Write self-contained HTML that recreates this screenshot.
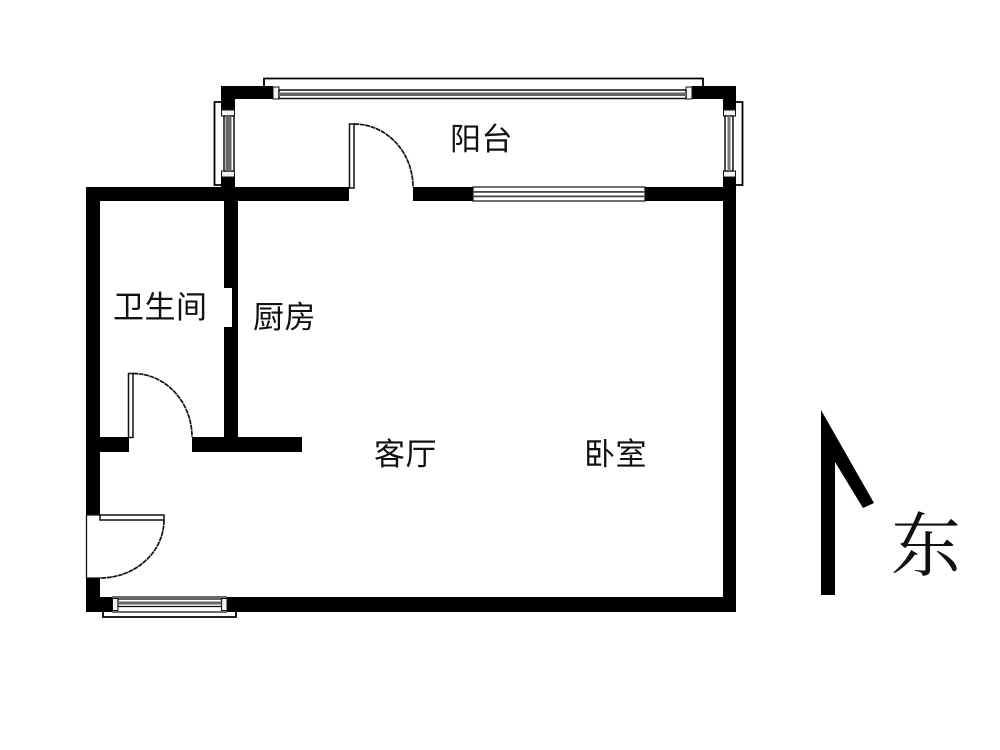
<!DOCTYPE html>
<html lang="zh">
<head>
<meta charset="utf-8">
<style>
html,body{margin:0;padding:0;background:#fff;width:1000px;height:750px;overflow:hidden}
svg{display:block;filter:blur(.35px)}
text{font-family:"Liberation Sans","Noto Sans CJK SC",sans-serif;fill:#111;font-size:31px;font-weight:400;letter-spacing:.5px}
</style>
</head>
<body>
<svg width="1000" height="750" viewBox="0 0 1000 750" xmlns="http://www.w3.org/2000/svg">
<rect width="1000" height="750" fill="#fff"/>
<!-- outer window frames -->
<g fill="none" stroke="#000" stroke-width="1.800">
<path d="M264 86V78.500H703V86"/>
<path d="M221 102H214.500V185H221"/>
<path d="M736 102H742.500V185H736"/>
<path d="M103 612V617H236V612"/>
</g>
<!-- walls -->
<g fill="#000">
<rect x="221" y="86" width="53" height="13"/>
<rect x="692" y="86" width="44" height="13"/>
<rect x="221" y="86" width="14" height="115"/>
<rect x="723" y="86" width="13" height="526"/>
<rect x="86" y="187" width="263" height="14"/>
<rect x="413" y="187" width="60" height="14"/>
<rect x="645" y="187" width="91" height="14"/>
<rect x="86" y="187" width="14" height="328"/>
<rect x="86" y="578" width="14" height="34"/>
<rect x="86" y="597" width="650" height="15"/>
<rect x="224" y="187" width="14" height="250"/>
<rect x="100" y="437" width="29" height="15"/>
<rect x="192" y="437" width="110" height="15"/>
</g>
<!-- partition notch -->
<rect x="222" y="288" width="10" height="39" fill="#fff"/>
<!-- top balcony window -->
<rect x="273" y="86" width="419" height="13" fill="#fff"/>
<rect x="273" y="87" width="6" height="12" fill="#f2f2f2" stroke="#111" stroke-width="1"/>
<rect x="686" y="87" width="6" height="12" fill="#f2f2f2" stroke="#111" stroke-width="1"/>
<rect x="279" y="90" width="407" height="8.500" fill="#fff" stroke="#111" stroke-width="1.500"/>
<rect x="279" y="92.500" width="407" height="3.500" fill="#666"/>
<!-- left balcony window -->
<rect x="221" y="110" width="14" height="67" fill="#fff"/>
<rect x="221.500" y="110" width="13" height="6" fill="#f2f2f2" stroke="#111" stroke-width="1"/>
<rect x="221.500" y="171" width="13" height="6" fill="#f2f2f2" stroke="#111" stroke-width="1"/>
<rect x="224" y="116" width="10" height="55" fill="#fff" stroke="#111" stroke-width="1.500"/>
<rect x="225.500" y="116" width="6" height="55" fill="#666"/>
<!-- right balcony window -->
<rect x="723" y="110" width="13" height="67" fill="#fff"/>
<rect x="723.500" y="110" width="12" height="6" fill="#f2f2f2" stroke="#111" stroke-width="1"/>
<rect x="723.500" y="171" width="12" height="6" fill="#f2f2f2" stroke="#111" stroke-width="1"/>
<rect x="725" y="116" width="8" height="55" fill="#fff" stroke="#111" stroke-width="1.500"/>
<rect x="727.500" y="116" width="3" height="55" fill="#777"/>
<!-- middle window -->
<rect x="473" y="187" width="172" height="14" fill="#fff" stroke="#111" stroke-width="1.200"/>
<rect x="473" y="191" width="172" height="1.800" fill="#444"/>
<rect x="473" y="195.500" width="172" height="1.800" fill="#444"/>
<!-- bottom window -->
<rect x="112" y="597" width="115" height="15" fill="#fff"/>
<rect x="112.500" y="598.500" width="5.500" height="12" fill="#f2f2f2" stroke="#111" stroke-width="1"/>
<rect x="221.500" y="598.500" width="5.500" height="12" fill="#f2f2f2" stroke="#111" stroke-width="1"/>
<rect x="118" y="599" width="103.500" height="7.500" fill="#fff" stroke="#111" stroke-width="1.300"/>
<rect x="118" y="601.500" width="103.500" height="3" fill="#666"/>
<path d="M112 597H227M112 612H227" stroke="#111" stroke-width="1.200"/>
<!-- doors -->
<g fill="#fff" stroke="#111" stroke-width="1.500">
<rect x="349.500" y="124" width="4.500" height="64"/>
<rect x="128.500" y="373.500" width="4.500" height="64"/>
<rect x="100" y="515" width="64" height="5"/>
</g>
<g fill="none" stroke="#111" stroke-width="1.700" stroke-dasharray="5 .6">
<path d="M354 124A59 63 0 0 1 413 187"/>
<path d="M133 373.500A59 63.500 0 0 1 192 437"/>
<path d="M164 520A64 58 0 0 1 100 578"/>
</g>
<path d="M100 515H86.500V578H100" fill="none" stroke="#111" stroke-width="1.300"/>
<!-- arrow -->
<polygon points="821,410 874,503 863,508 835,462 835,595 821,595" fill="#000"/>
<!-- labels -->
<text x="113" y="318">卫生间</text>
<text x="253" y="328">厨房</text>
<text x="450" y="150">阳台</text>
<text x="374" y="465">客厅</text>
<text x="584" y="465">卧室</text>
<text x="891" y="570" style="font-family:'Liberation Serif','Noto Serif CJK SC',serif;font-size:70px;letter-spacing:0;font-weight:400">东</text>
</svg>
</body>
</html>
